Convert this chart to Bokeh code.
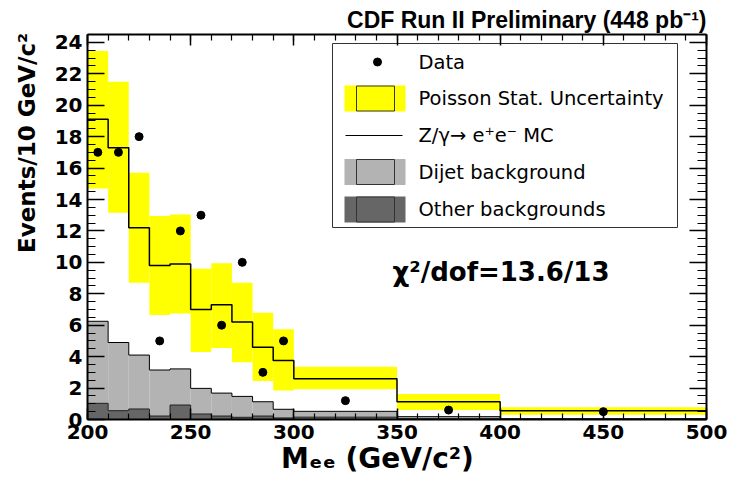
from bokeh.plotting import figure
from bokeh.models import Range1d, LinearAxis, FixedTicker, Label, CustomJSTickFormatter
from bokeh.embed import file_html
from bokeh.resources import INLINE

# ---- data (Events / 10 GeV/c^2) ----
edges = [200, 210, 220, 230, 240, 250, 260, 270, 280, 290, 300, 350, 400, 500]
mc_total = [19.1, 17.3, 12.2, 9.8, 9.9, 7.0, 7.3, 6.2, 4.6, 3.75, 2.6, 1.13, 0.56]
band_hi = [23.45, 21.5, 15.7, 12.95, 13.05, 9.6, 9.95, 8.7, 6.8, 5.75, 3.35, 1.62, 0.78]
band_lo = [14.7, 13.15, 8.7, 6.65, 6.75, 4.3, 4.55, 3.65, 2.45, 1.85, 1.92, 0.6, 0.3]
dijet = [6.25, 4.9, 4.1, 3.15, 3.22, 1.98, 1.68, 1.47, 1.13, 0.65, 0.52, 0.18, 0.05]
other = [1.03, 0.56, 0.67, 0.22, 0.92, 0.35, 0.22, 0.14, 0.22, 0.1, 0.15, 0.05, 0.02]
data_x = [205, 215, 225, 235, 245, 255, 265, 275, 285, 295, 325, 375, 450]
data_y = [17, 17, 18, 5, 12, 13, 6, 10, 3, 5, 1.2, 0.6, 0.5]
x_major = [200, 250, 300, 350, 400, 450, 500]
y_major = list(range(0, 25, 2))

YELLOW = "#ffff00"
LIGHT = "#b3b3b3"
DARK = "#666666"
NBSP = "\u00a0"

W, H = 730, 491
XMIN, XMAX, YMIN, YMAX = 200, 500, 0, 24.5
ML, MR, MT, MB = 87, 24, 34, 72

p = figure(width=W, height=H, output_backend="svg", toolbar_location=None,
           x_range=Range1d(XMIN, XMAX), y_range=Range1d(YMIN, YMAX),
           min_border_left=ML, min_border_right=MR, min_border_top=MT, min_border_bottom=MB)
p.grid.visible = False
p.outline_line_color = None
p.background_fill_color = "white"
p.border_fill_color = "white"

# title (top right)
p.title.text = "CDF Run II Preliminary (448 pb\u207b\u00b9)"
p.title.align = "right"
p.title.text_font = "Liberation Sans"
p.title.text_font_style = "bold"
p.title.text_font_size = "23px"
p.title.text_color = "black"
p.title.standoff = 3
p.title.offset = 0

# canvas pixel -> data helpers, used for the hand-drawn legend box only
FX0, FX1 = ML, W - MR
FY0, FY1 = MT, H - MB
def dx(px):
    return XMIN + (px - FX0) * (XMAX - XMIN) / (FX1 - FX0)
def dy(py):
    return YMIN + (FY1 - py) * (YMAX - YMIN) / (FY1 - FY0)

lefts = edges[:-1]
rights = edges[1:]

# Poisson band
p.quad(left=lefts, right=rights, bottom=band_lo, top=band_hi,
       fill_color=YELLOW, line_color=None)
# MC line
p.step(x=edges, y=mc_total + [mc_total[-1]], mode="after", line_color="black", line_width=1.5)
# Dijet background
p.quad(left=lefts, right=rights, bottom=0, top=dijet, fill_color=LIGHT, line_color=None)
p.step(x=edges, y=dijet + [dijet[-1]], mode="after", line_color="black", line_width=1)
# Other backgrounds
p.quad(left=lefts, right=rights, bottom=0, top=other, fill_color=DARK, line_color=None)
p.step(x=edges, y=other + [other[-1]], mode="after", line_color="#222222", line_width=1)
# Data
p.scatter(x=data_x, y=data_y, size=8, marker="circle", fill_color="black", line_color="black")

# ---- axes ----
def style_axis(ax, major_len, minor_len, labels=True):
    ax.axis_line_width = 2
    ax.axis_line_color = "black"
    ax.major_tick_in = major_len
    ax.major_tick_out = 0
    ax.minor_tick_in = minor_len
    ax.minor_tick_out = 0
    ax.major_tick_line_width = 1.5
    ax.minor_tick_line_width = 1.2
    ax.major_tick_line_color = "black"
    ax.minor_tick_line_color = "black"
    ax.major_label_text_font = "DejaVu Sans"
    ax.major_label_text_font_style = "bold"
    ax.major_label_text_font_size = "20px"
    ax.major_label_text_color = "black"
    ax.axis_label_text_font = "DejaVu Sans"
    ax.axis_label_text_font_style = "bold"
    ax.axis_label_text_color = "black"
    if not labels:
        ax.formatter = CustomJSTickFormatter(code="return ''")
        ax.major_label_text_font_size = "1px"
        ax.major_label_standoff = 0

xt = FixedTicker(ticks=x_major, minor_ticks=list(range(200, 501, 10)))
yt = FixedTicker(ticks=y_major, minor_ticks=[i * 0.5 for i in range(0, 50)])

xa = p.xaxis[0]
xa.ticker = xt
style_axis(xa, 11, 6)
xa.major_label_standoff = 5
xa.axis_label = "M\u2091\u2091 (GeV/c\u00b2)" + NBSP * 4
xa.axis_label_text_font_size = "28px"
xa.axis_label_standoff = 0

ya = p.yaxis[0]
ya.ticker = yt
style_axis(ya, 17, 8)
ya.major_label_standoff = 5
ya.axis_label = NBSP * 21 + "Events/10 GeV/c\u00b2"
ya.axis_label_text_font_size = "23px"
ya.axis_label_standoff = 12

top = LinearAxis(ticker=xt)
style_axis(top, 11, 6, labels=False)
p.add_layout(top, "above")
right = LinearAxis(ticker=yt)
style_axis(right, 17, 9, labels=False)
p.add_layout(right, "right")

# ---- legend (drawn by hand) ----
p.quad(left=[dx(332)], right=[dx(677)], bottom=[dy(227)], top=[dy(43)],
       fill_color="white", line_color="#333333", line_width=1)
rows = [61.5, 98, 135, 171.5, 209]
p.scatter(x=[dx(377)], y=[dy(rows[0])], size=8, marker="circle", fill_color="black", line_color="black")
for yc, col in [(rows[1], YELLOW), (rows[3], LIGHT), (rows[4], DARK)]:
    p.quad(left=[dx(344)], right=[dx(405)], bottom=[dy(yc + 13)], top=[dy(yc - 13)],
           fill_color=col, line_color=None)
    p.quad(left=[dx(356)], right=[dx(394)], bottom=[dy(yc + 12.5)], top=[dy(yc - 12.5)],
           fill_color=col, line_color="#333333", line_width=1)
p.line(x=[dx(345), dx(402)], y=[dy(rows[2]), dy(rows[2])], line_color="black", line_width=1)

legend_texts = ["Data", "Poisson Stat. Uncertainty", "Z/\u03b3\u2192 e\u207ae\u207b MC",
                "Dijet background", "Other backgrounds"]
for yc, t in zip(rows, legend_texts):
    p.add_layout(Label(x=dx(418), y=dy(yc), text=t, text_font="DejaVu Sans",
                       text_font_size="19.5px", text_baseline="middle", text_align="left",
                       text_color="black"))

# chi2 text
p.add_layout(Label(x=dx(392), y=dy(271.5), text="\u03c7\u00b2/dof=13.6/13",
                   text_font="DejaVu Sans", text_font_style="bold", text_font_size="26px",
                   text_align="left", text_baseline="alphabetic", text_color="black"))

open("out.html", "w").write(file_html(p, INLINE))
